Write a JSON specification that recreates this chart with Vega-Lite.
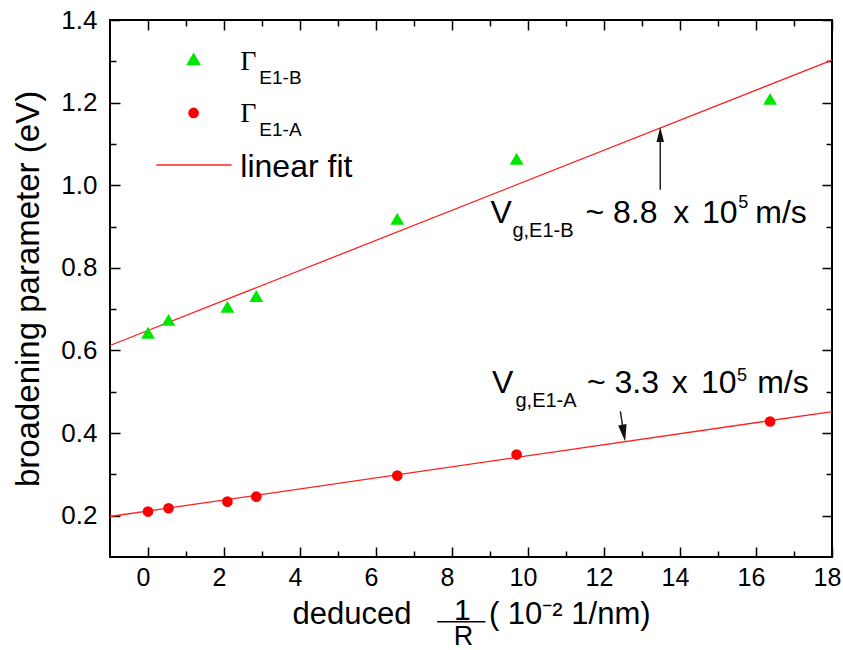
{
  "$schema": "https://vega.github.io/schema/vega-lite/v6.json",
  "width": 722,
  "height": 537,
  "autosize": {"type": "none"},
  "padding": {"left": 110, "top": 20, "right": 11, "bottom": 93},
  "background": "white",
  "data": {"values": [{}]},
  "config": {
    "view": {"stroke": "black", "strokeWidth": 2},
    "font": "Liberation Sans",
    "axis": {"grid": false, "domain": false, "tickColor": "black", "tickWidth": 1.5, "labelColor": "black", "titleColor": "black", "labelFont": "Liberation Sans", "titleFont": "Liberation Sans", "titleFontWeight": "normal", "labelFlush": false, "labelOverlap": false}
  },
  "resolve": {"axis": {"x": "independent", "y": "independent"}},
  "datasets": {
    "points": [
      {"x": 0.0, "y": 0.643, "series": "E1-B"},
      {"x": 0.54, "y": 0.674, "series": "E1-B"},
      {"x": 2.09, "y": 0.706, "series": "E1-B"},
      {"x": 2.85, "y": 0.732, "series": "E1-B"},
      {"x": 6.56, "y": 0.919, "series": "E1-B"},
      {"x": 9.7, "y": 1.064, "series": "E1-B"},
      {"x": 16.37, "y": 1.209, "series": "E1-B"},
      {"x": 0.0, "y": 0.21, "series": "E1-A"},
      {"x": 0.54, "y": 0.218, "series": "E1-A"},
      {"x": 2.09, "y": 0.234, "series": "E1-A"},
      {"x": 2.85, "y": 0.246, "series": "E1-A"},
      {"x": 6.56, "y": 0.297, "series": "E1-A"},
      {"x": 9.7, "y": 0.348, "series": "E1-A"},
      {"x": 16.37, "y": 0.428, "series": "E1-A"}
    ],
    "fits": [
      {"x": -1, "y": 0.612, "series": "E1-B"},
      {"x": 18, "y": 1.303, "series": "E1-B"},
      {"x": -1, "y": 0.198, "series": "E1-A"},
      {"x": 18, "y": 0.452, "series": "E1-A"}
    ]
  },
  "layer": [
    {
      "data": {"name": "fits"},
      "mark": {"type": "line", "color": "#ff2020", "strokeWidth": 1.3},
      "encoding": {
        "x": {"field": "x", "type": "quantitative", "scale": {"domain": [-1, 18], "nice": false, "zero": false},
          "axis": {"orient": "bottom", "values": [0, 2, 4, 6, 8, 10, 12, 14, 16, 18], "tickSize": -10, "labelPadding": 18, "labelOffset": -5, "labelFontSize": 25, "title": "\u00a0\u00a0deduced\u00a0\u00a0\u00a0\u00a0\u00a0\u00a0\u00a0\u00a0\u00a0( 10⁻² 1/nm)", "titleFontSize": 31, "titlePadding": 9}},
        "y": {"field": "y", "type": "quantitative", "scale": {"domain": [0.1, 1.4], "nice": false, "zero": false},
          "axis": {"orient": "left", "values": [0.2, 0.4, 0.6, 0.8, 1.0, 1.2, 1.4], "format": ".1f", "tickSize": -10, "labelPadding": 23, "labelFontSize": 26, "title": "broadening parameter (eV)", "titleFontSize": 33, "titlePadding": 15}},
        "detail": {"field": "series"}
      }
    },
    {
      "data": {"name": "points"},
      "transform": [{"filter": "datum.series === 'E1-B'"}],
      "mark": {"type": "point", "shape": "triangle-up", "filled": true, "color": "#00e600", "size": 190, "opacity": 1},
      "encoding": {
        "x": {"field": "x", "type": "quantitative", "axis": {"orient": "bottom", "values": [1, 3, 5, 7, 9, 11, 13, 15, 17], "tickSize": -6, "labels": false, "title": null}},
        "y": {"field": "y", "type": "quantitative", "axis": {"orient": "left", "values": [0.3, 0.5, 0.7, 0.9, 1.1, 1.3], "tickSize": -6, "labels": false, "title": null}}
      }
    },
    {
      "data": {"name": "points"},
      "transform": [{"filter": "datum.series === 'E1-A'"}],
      "mark": {"type": "point", "shape": "circle", "filled": true, "color": "#ff0000", "size": 115, "opacity": 1},
      "encoding": {
        "x": {"field": "x", "type": "quantitative", "axis": {"orient": "top", "values": [0, 2, 4, 6, 8, 10, 12, 14, 16, 18], "tickSize": -10, "labels": false, "title": null}},
        "y": {"field": "y", "type": "quantitative", "axis": {"orient": "right", "values": [0.2, 0.4, 0.6, 0.8, 1.0, 1.2, 1.4], "tickSize": -10, "labels": false, "title": null}}
      }
    },
    {
      "mark": {"type": "rule", "color": "#222222", "strokeWidth": 1.5},
      "encoding": {
        "x": {"datum": 13.48, "axis": {"orient": "top", "values": [1, 3, 5, 7, 9, 11, 13, 15, 17], "tickSize": -6, "labels": false, "title": null}},
        "y": {"datum": 0.989, "axis": {"orient": "right", "values": [0.3, 0.5, 0.7, 0.9, 1.1, 1.3], "tickSize": -6, "labels": false, "title": null}},
        "y2": {"datum": 1.12}
      }
    },
    {
      "mark": {"type": "rule", "color": "#222222", "strokeWidth": 1.5},
      "encoding": {
        "x": {"datum": 12.43, "axis": null},
        "y": {"datum": 0.4523, "axis": null},
        "x2": {"datum": 12.52},
        "y2": {"datum": 0.4}
      }
    },
    {
      "mark": {"type": "point", "shape": "M0,-1L-0.5,1L0.5,1Z", "filled": true, "color": "#111111", "size": 225, "opacity": 1},
      "encoding": {
        "x": {"datum": 13.48, "axis": null},
        "y": {"datum": 1.123, "axis": null}
      }
    },
    {
      "mark": {"type": "point", "shape": "M0,1L-0.5,-1L0.5,-1Z", "filled": true, "color": "#111111", "size": 289, "angle": -9.5, "opacity": 1},
      "encoding": {
        "x": {"datum": 12.52, "axis": null},
        "y": {"datum": 0.4, "axis": null}
      }
    },
    {
      "mark": {"type": "point", "shape": "triangle-up", "filled": true, "color": "#00e600", "size": 220, "opacity": 1},
      "encoding": {"x": {"datum": 1.2, "axis": null}, "y": {"datum": 1.306, "axis": null}}
    },
    {
      "mark": {"type": "point", "shape": "circle", "filled": true, "color": "#ff0000", "size": 115, "opacity": 1},
      "encoding": {"x": {"datum": 1.2, "axis": null}, "y": {"datum": 1.175, "axis": null}}
    },
    {
      "mark": {"type": "rule", "color": "#ff2020", "strokeWidth": 1.5},
      "encoding": {"x": {"datum": 0.22, "axis": null}, "x2": {"datum": 2.2}, "y": {"datum": 1.049, "axis": null}}
    },
    {
      "mark": {"type": "text", "text": "Γ", "font": "Liberation Serif", "fontSize": 28, "align": "left", "baseline": "alphabetic", "color": "black"},
      "encoding": {"x": {"datum": 2.43, "axis": null}, "y": {"datum": 1.279, "axis": null}}
    },
    {
      "mark": {"type": "text", "text": "E1-B", "fontSize": 19, "align": "left", "baseline": "alphabetic", "color": "black"},
      "encoding": {"x": {"datum": 2.93, "axis": null}, "y": {"datum": 1.245, "axis": null}}
    },
    {
      "mark": {"type": "text", "text": "Γ", "font": "Liberation Serif", "fontSize": 28, "align": "left", "baseline": "alphabetic", "color": "black"},
      "encoding": {"x": {"datum": 2.43, "axis": null}, "y": {"datum": 1.153, "axis": null}}
    },
    {
      "mark": {"type": "text", "text": "E1-A", "fontSize": 19, "align": "left", "baseline": "alphabetic", "color": "black"},
      "encoding": {"x": {"datum": 2.93, "axis": null}, "y": {"datum": 1.119, "axis": null}}
    },
    {
      "mark": {"type": "text", "text": "linear fit", "fontSize": 32, "align": "left", "baseline": "alphabetic", "color": "black"},
      "encoding": {"x": {"datum": 2.43, "axis": null}, "y": {"datum": 1.02, "axis": null}}
    },
    {
      "mark": {"type": "text", "text": "V", "fontSize": 32, "align": "left", "baseline": "alphabetic", "color": "black"},
      "encoding": {"x": {"datum": 9.01, "axis": null}, "y": {"datum": 0.909, "axis": null}}
    },
    {
      "mark": {"type": "text", "text": "g,E1-B", "fontSize": 20, "align": "left", "baseline": "alphabetic", "color": "black"},
      "encoding": {"x": {"datum": 9.59, "axis": null}, "y": {"datum": 0.875, "axis": null}}
    },
    {
      "mark": {"type": "text", "text": "~ 8.8", "fontSize": 32, "align": "left", "baseline": "alphabetic", "color": "black"},
      "encoding": {"x": {"datum": 11.51, "axis": null}, "y": {"datum": 0.909, "axis": null}}
    },
    {
      "mark": {"type": "text", "text": "x", "fontSize": 32, "align": "left", "baseline": "alphabetic", "color": "black"},
      "encoding": {"x": {"datum": 13.82, "axis": null}, "y": {"datum": 0.909, "axis": null}}
    },
    {
      "mark": {"type": "text", "text": "10", "fontSize": 32, "align": "left", "baseline": "alphabetic", "color": "black"},
      "encoding": {"x": {"datum": 14.58, "axis": null}, "y": {"datum": 0.909, "axis": null}}
    },
    {
      "mark": {"type": "text", "text": "5", "fontSize": 18, "align": "left", "baseline": "alphabetic", "color": "black"},
      "encoding": {"x": {"datum": 15.53, "axis": null}, "y": {"datum": 0.945, "axis": null}}
    },
    {
      "mark": {"type": "text", "text": "m/s", "fontSize": 32, "align": "left", "baseline": "alphabetic", "color": "black"},
      "encoding": {"x": {"datum": 15.98, "axis": null}, "y": {"datum": 0.909, "axis": null}}
    },
    {
      "mark": {"type": "text", "text": "V", "fontSize": 32, "align": "left", "baseline": "alphabetic", "color": "black"},
      "encoding": {"x": {"datum": 9.05, "axis": null}, "y": {"datum": 0.497, "axis": null}}
    },
    {
      "mark": {"type": "text", "text": "g,E1-A", "fontSize": 20, "align": "left", "baseline": "alphabetic", "color": "black"},
      "encoding": {"x": {"datum": 9.67, "axis": null}, "y": {"datum": 0.464, "axis": null}}
    },
    {
      "mark": {"type": "text", "text": "~ 3.3", "fontSize": 32, "align": "left", "baseline": "alphabetic", "color": "black"},
      "encoding": {"x": {"datum": 11.55, "axis": null}, "y": {"datum": 0.497, "axis": null}}
    },
    {
      "mark": {"type": "text", "text": "x", "fontSize": 32, "align": "left", "baseline": "alphabetic", "color": "black"},
      "encoding": {"x": {"datum": 13.78, "axis": null}, "y": {"datum": 0.497, "axis": null}}
    },
    {
      "mark": {"type": "text", "text": "10", "fontSize": 32, "align": "left", "baseline": "alphabetic", "color": "black"},
      "encoding": {"x": {"datum": 14.55, "axis": null}, "y": {"datum": 0.497, "axis": null}}
    },
    {
      "mark": {"type": "text", "text": "5", "fontSize": 18, "align": "left", "baseline": "alphabetic", "color": "black"},
      "encoding": {"x": {"datum": 15.5, "axis": null}, "y": {"datum": 0.525, "axis": null}}
    },
    {
      "mark": {"type": "text", "text": "m/s", "fontSize": 32, "align": "left", "baseline": "alphabetic", "color": "black"},
      "encoding": {"x": {"datum": 16.03, "axis": null}, "y": {"datum": 0.497, "axis": null}}
    },
    {
      "mark": {"type": "rule", "color": "black", "strokeWidth": 1.6},
      "encoding": {"x": {"datum": 7.61, "axis": null}, "x2": {"datum": 8.88}, "y": {"datum": -0.0566, "axis": null}}
    },
    {
      "mark": {"type": "text", "text": "1", "fontSize": 30, "align": "center", "baseline": "alphabetic", "color": "black"},
      "encoding": {"x": {"datum": 8.27, "axis": null}, "y": {"datum": -0.052, "axis": null}}
    },
    {
      "mark": {"type": "text", "text": "R", "fontSize": 27, "align": "center", "baseline": "alphabetic", "color": "black"},
      "encoding": {"x": {"datum": 8.3, "axis": null}, "y": {"datum": -0.1122, "axis": null}}
    }
  ]
}
